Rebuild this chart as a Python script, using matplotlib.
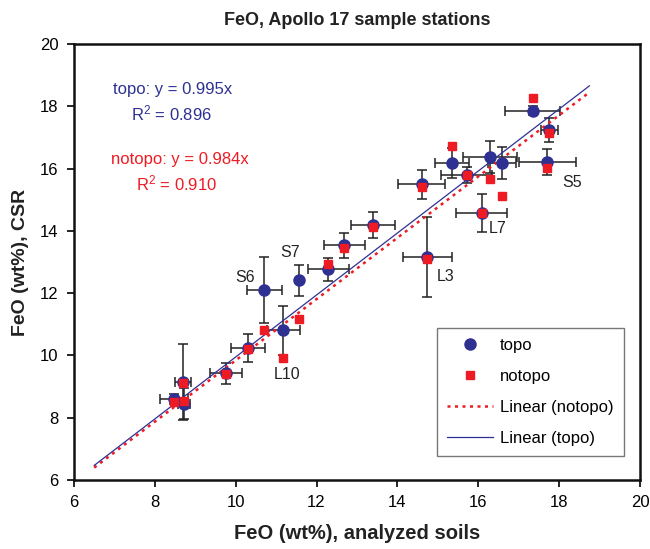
"""
FeO at Apollo 17 sample stations: CSR estimate vs. analyzed soils,
with and without topographic correction.
"""

import numpy as np
import matplotlib
matplotlib.use("Agg")
import matplotlib.pyplot as plt

plt.rcParams['font.family'] = ['Liberation Sans', 'DejaVu Sans']
plt.rcParams['mathtext.default'] = 'regular'

# ── Data ──────────────────────────────────────────────────────
feo_soil = [8.48, 8.70, 8.72, 9.76, 10.31, 10.71, 11.18, 11.57, 12.29, 12.69, 13.40,
            14.60, 14.74, 15.34, 15.71, 16.08, 16.29, 16.59, 17.71, 17.35, 17.76]
feo_topo = [8.60, 9.15, 8.45, 9.42, 10.25, 12.09, 10.81, 12.41, 12.76, 13.53, 14.18,
            15.49, 13.17, 16.17, 15.80, 14.58, 16.37, 16.17, 16.20, 17.86, 17.24]
feo_notopo = [8.50, 9.10, 8.55, 9.40, 10.22, 10.83, 9.93, 11.18, 12.95, 13.45, 14.12,
              15.42, 13.11, 16.74, 15.78, 14.58, 15.65, 15.12, 16.03, 18.27, 17.14]
xerr = [0.35, 0.20, 0.15, 0.39, 0.42, 0.44, 0.41, 0.0, 0.51, 0.51, 0.54,
        0.58, 0.61, 0.42, 0.62, 0.64, 0.67, 0.35, 0.71, 0.68, 0.22]
yerr = [0.15, 1.22, 0.50, 0.35, 0.45, 1.06, 0.79, 0.50, 0.37, 0.40, 0.42,
        0.46, 1.28, 0.48, 0.25, 0.61, 0.51, 0.51, 0.42, 0.15, 0.39]

station_labels = ["S5", "L7", "L3", "S6", "S7", "L10"]
label_x = [18.31, 16.49, 15.20, 10.23, 11.34, 11.26]
label_y = [15.56, 14.09, 12.52, 12.50, 13.32, 9.40]

slope_topo, r2_topo = 0.995, 0.896
slope_notopo, r2_notopo = 0.984, 0.910
fit_range = [6.5, 18.75]

blue = "#2E3192"
red = "#ED1C24"

# ── Plot ───────────────────────────────────────────────────────
fig = plt.figure(figsize=(6.5, 5.49), dpi=100)
ax = fig.add_axes([0.1138, 0.1257, 0.8708, 0.7942])

ax.errorbar(feo_soil, feo_topo, xerr=xerr, yerr=yerr, fmt='none',
            ecolor="#222222", elinewidth=1.1, capsize=3.5, capthick=1.1, zorder=2)

xf = np.array(fit_range)
ax.plot(xf, slope_notopo * xf, linestyle=(0, (1.2, 1.8)), color=red, linewidth=1.8,
        label="Linear (notopo)", zorder=3)
ax.plot(xf, slope_topo * xf, '-', color=blue, linewidth=0.9,
        label="Linear (topo)", zorder=3)

ax.plot(feo_soil, feo_topo, 'o', color=blue, markersize=8, linestyle='none',
        label="topo", zorder=4)
ax.plot(feo_soil, feo_notopo, 's', color=red, markersize=6, linestyle='none',
        label="notopo", zorder=5)

for name, lx, ly in zip(station_labels, label_x, label_y):
    ax.text(lx, ly, name, fontsize=11.5, color="#222222", ha="center", va="center")

ax.text(8.45, 18.54, f"topo: y = {slope_topo:.3f}x", color=blue, fontsize=12,
        ha="center", va="center")
ax.text(8.42, 17.77, f"R$^2$ = {r2_topo:.3f}", color=blue, fontsize=12,
        ha="center", va="center")
ax.text(8.62, 16.29, f"notopo: y = {slope_notopo:.3f}x", color=red, fontsize=12,
        ha="center", va="center")
ax.text(8.54, 15.52, f"R$^2$ = {r2_notopo:.3f}", color=red, fontsize=12,
        ha="center", va="center")

ax.set_xlim(6, 20)
ax.set_ylim(6, 20)
ax.set_xticks(range(6, 21, 2))
ax.set_yticks(range(6, 21, 2))
ax.tick_params(direction='out', length=5, width=1.2, labelsize=12,
               top=False, right=False, pad=6)
for sp in ax.spines.values():
    sp.set_linewidth(1.8)
    sp.set_color("#111111")

ax.set_title("FeO, Apollo 17 sample stations", fontsize=13, fontweight="bold",
             color="#222222", pad=14)
ax.set_xlabel("FeO (wt%), analyzed soils", fontsize=14.5, fontweight="bold",
              color="#222222", labelpad=10)
ax.set_ylabel("FeO (wt%), CSR", fontsize=14, fontweight="bold",
              color="#222222", labelpad=8)

handles, labels = ax.get_legend_handles_labels()
order = [labels.index(k) for k in ["topo", "notopo", "Linear (notopo)", "Linear (topo)"]]
leg = ax.legend([handles[i] for i in order], [labels[i] for i in order],
                loc="upper left", bbox_to_anchor=(0.641, 0.348), fontsize=12,
                frameon=True, fancybox=False, edgecolor="#555555",
                borderpad=0.6, labelspacing=0.95, handlelength=2.8,
                handletextpad=0.4, borderaxespad=0)
leg.get_frame().set_linewidth(1.0)

fig.savefig("out.png", dpi=100)
